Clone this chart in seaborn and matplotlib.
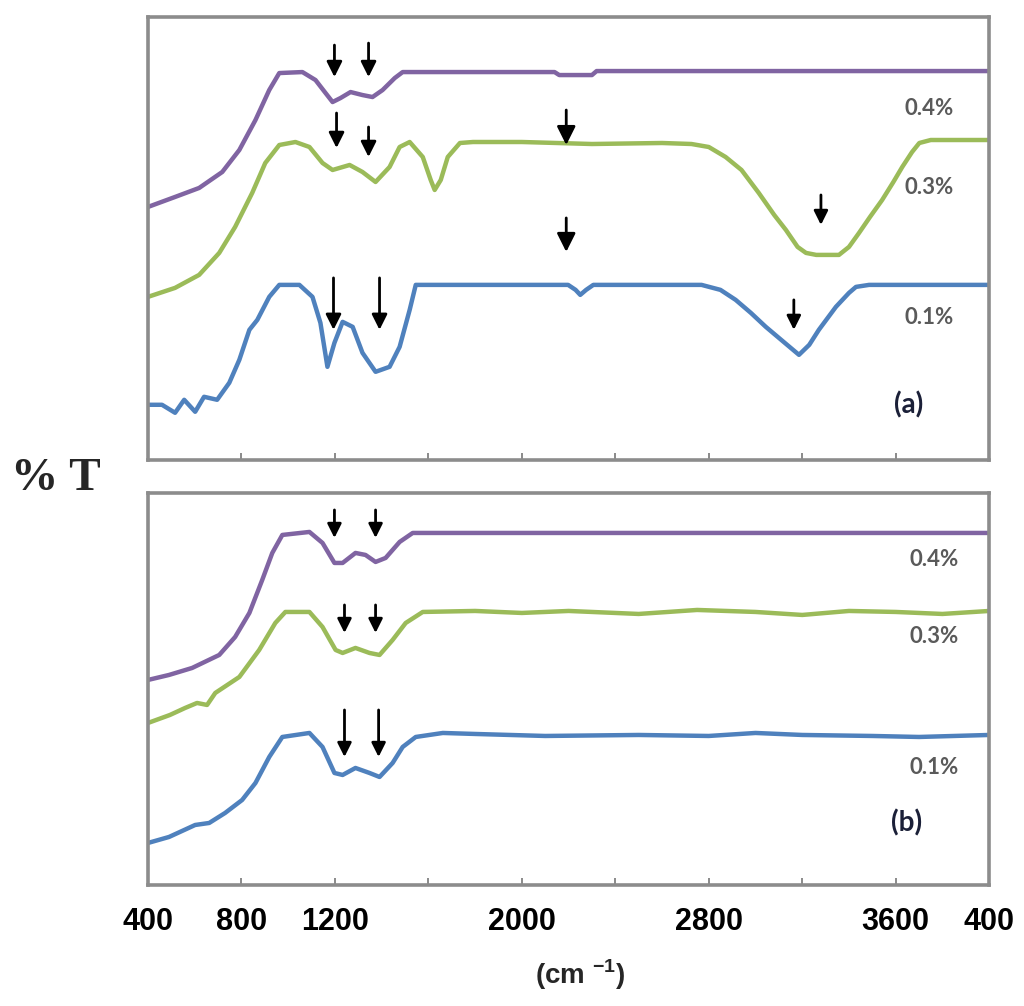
import matplotlib
matplotlib.use("Agg")
import matplotlib.pyplot as plt
import seaborn as sns
import pandas as pd

# ---------------- data (arbitrary %T units, offset per curve) ----------------
# Panel (a)
a_04_x = [400, 516, 619, 718, 791, 860, 919, 962, 1061, 1117, 1160, 1190, 1224, 1267, 1318, 1361, 1404, 1456, 1490,
          2140, 2160, 2300, 2320, 4000]
a_04_y = [253, 263, 272, 288, 310, 340, 370, 387, 388, 380, 367, 358, 362, 368, 365, 363, 370, 382, 388,
          388, 385, 385, 389, 389]

a_03_x = [400, 516, 619, 705, 773, 846, 902, 962, 1031, 1091, 1147, 1190, 1263, 1318, 1374, 1434, 1477, 1520, 1576,
          1610, 1627, 1653, 1683, 1735, 1791, 2000, 2300, 2600, 2726, 2800, 2872, 2940, 3014, 3080, 3130, 3180, 3216,
          3260, 3357, 3400, 3443, 3490, 3542, 3590, 3628, 3670, 3701, 3750, 3799, 4000]
a_03_y = [163, 172, 185, 207, 233, 267, 297, 315, 318, 313, 297, 290, 295, 288, 278, 293, 313, 318, 303,
          280, 270, 280, 303, 317, 318, 318, 316, 317, 316, 313, 303, 290, 267, 245, 230, 213, 207,
          205, 205, 213, 227, 243, 260, 278, 293, 308, 317, 320, 320, 320]

a_01_x = [400, 460, 516, 555, 602, 640, 696, 748, 791, 834, 868, 919, 962, 1048, 1104, 1138, 1168, 1198, 1233, 1276,
          1318, 1374, 1434, 1477, 1520, 1546, 2198, 2230, 2250, 2275, 2306, 2769, 2850, 2915, 2980, 3044, 3120, 3186,
          3230, 3271, 3344, 3400, 3430, 3486, 4000]
a_01_y = [55, 55, 47, 60, 48, 63, 60, 77, 100, 130, 140, 163, 175, 175, 163, 137, 93, 117, 138, 133,
          107, 88, 93, 113, 150, 175, 175, 170, 165, 170, 175, 175, 170, 160, 147, 133, 118, 105,
          115, 130, 153, 167, 173, 175, 175]

# Panel (b)
b_04_x = [400, 490, 589, 705, 773, 834, 889, 932, 975, 1091, 1147, 1198, 1233, 1288, 1331, 1374, 1417, 1477, 1533, 4000]
b_04_y = [205, 210, 217, 230, 248, 272, 305, 332, 350, 353, 342, 322, 322, 332, 330, 323, 327, 343, 352, 352]

b_03_x = [400, 494, 559, 610, 653, 688, 791, 876, 945, 988, 1091, 1147, 1203, 1233, 1288, 1348, 1391, 1447, 1503, 1576,
          1800, 2000, 2200, 2500, 2750, 3000, 3200, 3400, 3600, 3800, 4000]
b_03_y = [162, 170, 177, 182, 180, 192, 208, 235, 262, 273, 273, 258, 235, 232, 237, 232, 230, 245, 262, 273,
          274, 272, 274, 271, 275, 273, 270, 274, 273, 271, 274]

b_01_x = [400, 490, 602, 662, 730, 803, 860, 919, 975, 1091, 1147, 1198, 1233, 1288, 1348, 1391, 1447, 1490, 1546,
          1662, 1800, 2100, 2500, 2800, 3000, 3200, 3500, 3700, 4000]
b_01_y = [42, 48, 60, 62, 72, 85, 102, 128, 148, 152, 138, 112, 110, 117, 112, 108, 122, 138, 148,
          152, 151, 149, 150, 149, 152, 150, 149, 148, 150]

series_names = ["0.4%", "0.3%", "0.1%"]
series_colors = ["#8064A2", "#9BBB59", "#4F81BD"]

tick_values = [400, 800, 1200, 2000, 2800, 3600, 4000]
tick_labels = ["400", "800", "1200", "2000", "2800", "3600", "400"]
minor_ticks = [800, 1200, 1600, 2000, 2400, 2800, 3200, 3600]

# arrows: (x, tail_y, tip_y, head size)
arrows_a = [(1198, 415, 383, 23), (1344, 417, 383, 23),
            (1207, 347, 312, 23), (1344, 333, 303, 23),
            (2190, 350, 315, 28), (2190, 242, 208, 28),
            (1194, 182, 130, 23), (1391, 182, 130, 23),
            (3280, 265, 235, 21), (3164, 160, 130, 21)]
arrows_b = [(1198, 375, 347, 21), (1374, 375, 347, 21),
            (1241, 280, 252, 21), (1374, 280, 252, 21),
            (1241, 175, 128, 21), (1387, 175, 128, 21)]

labels_a = [(3744, 352, "0.4%"), (3744, 272, "0.3%"), (3744, 142, "0.1%")]
labels_b = [(3765, 325, "0.4%"), (3765, 248, "0.3%"), (3765, 117, "0.1%")]

# ---------------- plotting ----------------
sns.set_theme(style="white")
plt.rcParams["mathtext.fontset"] = "custom"
plt.rcParams["mathtext.bf"] = "Liberation Sans:bold"
plt.rcParams["mathtext.rm"] = "Liberation Sans:bold"

fig = plt.figure(figsize=(10.24, 10.06), dpi=100)
ax_a = fig.add_axes([0.1445, 0.543, 0.8215, 0.440])
ax_b = fig.add_axes([0.1445, 0.1203, 0.8215, 0.3897])


def make_df(xs, ys):
    rows = []
    for name, x, y in zip(series_names, xs, ys):
        rows.append(pd.DataFrame({"x": x, "T": y, "series": name}))
    return pd.concat(rows, ignore_index=True)


df_a = make_df([a_04_x, a_03_x, a_01_x], [a_04_y, a_03_y, a_01_y])
df_b = make_df([b_04_x, b_03_x, b_01_x], [b_04_y, b_03_y, b_01_y])
palette = dict(zip(series_names, series_colors))

for ax, df, ymax, arrows, labels, tag, tagpos in [
        (ax_a, df_a, 443, arrows_a, labels_a, "(a)", (3657, 55)),
        (ax_b, df_b, 392, arrows_b, labels_b, "(b)", (3645, 62))]:
    sns.lineplot(data=df, x="x", y="T", hue="series", palette=palette,
                 estimator=None, sort=False, lw=3.2, legend=False, ax=ax)
    for ln in ax.get_lines():
        ln.set_solid_joinstyle("round")
        ln.set_solid_capstyle("round")
    ax.set_xlim(400, 4000)
    ax.set_ylim(0, ymax)
    ax.set_xlabel("")
    ax.set_ylabel("")
    ax.set_yticks([])
    for sp in ax.spines.values():
        sp.set_color("#8c8c8c")
        sp.set_linewidth(2.6)
    ax.set_xticks(tick_values)
    ax.set_xticks(minor_ticks, minor=True)
    ax.tick_params(axis="x", which="both", direction="in", length=5, width=1.2,
                   color="#777777", bottom=True, pad=16)
    for (x, y0, y1, s) in arrows:
        ax.annotate("", xy=(x, y1), xytext=(x, y0),
                    arrowprops=dict(arrowstyle="-|>", color="black", lw=2.0,
                                    mutation_scale=s, shrinkA=0, shrinkB=0))
    for (x, y, t) in labels:
        ax.text(x, y, t, ha="center", va="center", fontsize=16, fontweight="bold",
                color="#5a5a5a", family=["Lato", "DejaVu Sans"])
    ax.text(tagpos[0], tagpos[1], tag, ha="center", va="center", fontsize=20,
            fontweight="bold", color="#1b2038", family=["Lato", "DejaVu Sans"])

ax_a.set_xticklabels([])
ax_b.set_xticklabels(tick_labels, fontsize=22, fontweight="bold",
                     family=["Liberation Sans", "DejaVu Sans"], color="black")

fig.text(0.055, 1 - 479 / 1006, "% T", ha="center", va="center", fontsize=34,
         fontweight="bold", family=["Liberation Serif", "DejaVu Serif"])
fig.text(580 / 1024, 1 - 975 / 1006, r"(cm $^{\mathbf{-1}}$)", ha="center", va="center",
         fontsize=20, fontweight="bold", family=["Liberation Sans", "DejaVu Sans"])

fig.savefig("out.png", dpi=100)
